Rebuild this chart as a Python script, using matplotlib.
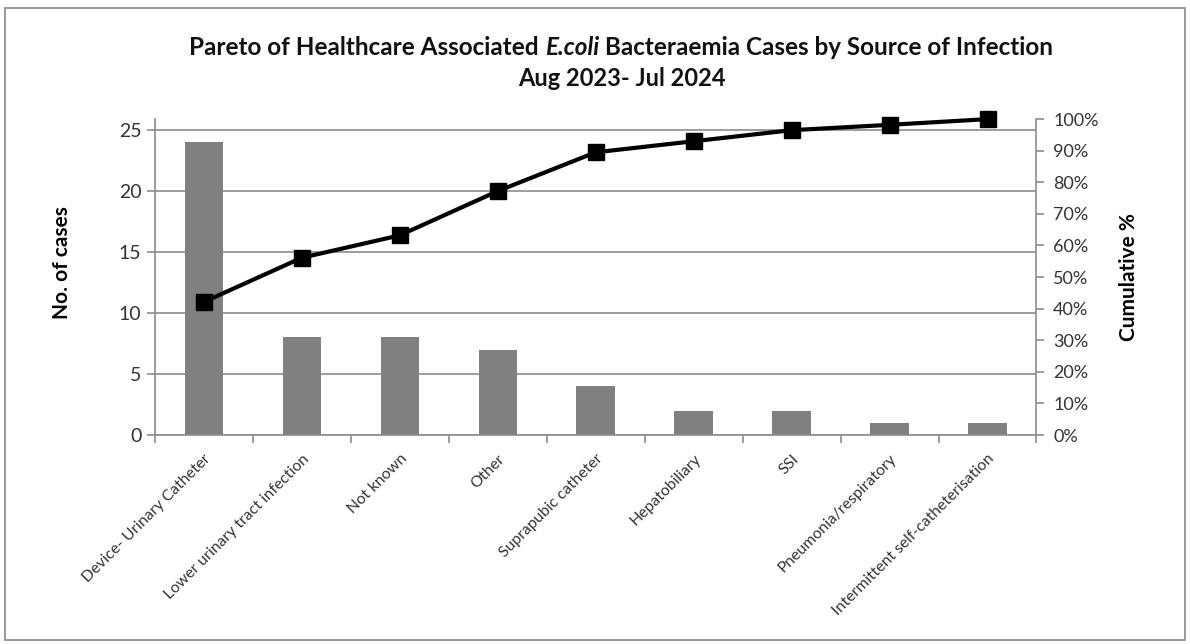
import numpy as np
import matplotlib
matplotlib.use('Agg')
import matplotlib.pyplot as plt
from matplotlib.patches import Rectangle
from matplotlib.ticker import MultipleLocator, FuncFormatter

plt.rcParams['font.family'] = ['Lato', 'DejaVu Sans']

# source of infection, number of cases and cumulative share
sources = ['Device- Urinary Catheter', 'Lower urinary tract infection', 'Not known',
           'Other', 'Suprapubic catheter', 'Hepatobiliary', 'SSI',
           'Pneumonia/respiratory', 'Intermittent self-catheterisation']
cases = [24, 8, 8, 7, 4, 2, 2, 1, 1]
cumulative_pct = [42.1, 56.1, 63.2, 77.2, 89.5, 93.0, 96.5, 98.2, 100.0]

grey = '#8c8c8c'

fig = plt.figure(figsize=(11.9, 6.44), dpi=100)
fig.patches.append(Rectangle((0.004, 0.006), 0.992, 0.981, transform=fig.transFigure,
                             fill=False, edgecolor='#909090', linewidth=1.3))

ax = fig.add_axes([0.130, 0.3245, 0.741, 0.4905])
x = np.arange(len(sources))
ax.bar(x, cases, width=0.39, color='#808080', zorder=2)
ax.set_xlim(-0.5, len(sources) - 0.5)
ax.set_ylim(0, 25.9)
ax.yaxis.set_major_locator(MultipleLocator(5))
ax.grid(axis='y', color='#8c8c8c', linewidth=1.2, zorder=0)
ax.set_axisbelow(True)

for side in ['top', 'right']:
    ax.spines[side].set_visible(False)
for side in ['left', 'bottom']:
    ax.spines[side].set_color(grey)
    ax.spines[side].set_linewidth(1.2)

# category ticks sit between the bars
ax.set_xticks(np.arange(len(sources) + 1) - 0.5)
ax.set_xticklabels([])
ax.set_xticks(x, minor=True)
ax.set_xticklabels(sources, minor=True, rotation=45, ha='right', va='top',
                   rotation_mode='anchor', fontsize=11.3, color='#333333')
ax.tick_params(axis='x', which='minor', length=0, pad=12)
ax.tick_params(axis='x', which='major', length=6, color=grey, width=1.2)
ax.tick_params(axis='y', length=6, color=grey, width=1.2, labelsize=14)
for lbl in ax.get_yticklabels():
    lbl.set_color('#333333')
ax.set_ylabel('No. of cases', fontsize=15, fontweight='bold')
ax.yaxis.set_label_coords(-0.094, 0.545)

ax2 = ax.twinx()
ax2.plot(x, cumulative_pct, color='black', linewidth=3, marker='s',
         markersize=12, zorder=3, clip_on=False)
ax2.set_ylim(0, 100)
ax2.yaxis.set_major_locator(MultipleLocator(10))
ax2.yaxis.set_major_formatter(FuncFormatter(lambda v, p: f'{v:.0f}%'))
for side in ['top', 'left', 'bottom']:
    ax2.spines[side].set_visible(False)
ax2.spines['right'].set_color(grey)
ax2.spines['right'].set_linewidth(1.2)
ax2.tick_params(axis='y', length=6, color=grey, width=1.2, labelsize=13, pad=6)
for lbl in ax2.get_yticklabels():
    lbl.set_color('#333333')
ax2.set_ylabel('Cumulative %', fontsize=15, fontweight='bold')
ax2.yaxis.set_label_coords(1.094, 0.5)

# title, with the organism name in italics
parts = [('Pareto of Healthcare Associated ', 'normal'),
         ('E.coli', 'italic'),
         (' Bacteraemia Cases by Source of Infection', 'normal')]
fig.canvas.draw()
renderer = fig.canvas.get_renderer()
texts = []
for s, style in parts:
    t = fig.text(0, 0.915, s, fontsize=17.5, fontweight='bold', style=style,
                 ha='left', va='baseline', color='#111111')
    texts.append(t)
widths = [t.get_window_extent(renderer).width / fig.bbox.width for t in texts]
left = 0.522 - sum(widths) / 2
for t, w in zip(texts, widths):
    t.set_x(left)
    left += w
fig.text(0.523, 0.866, 'Aug 2023- Jul 2024', fontsize=17, fontweight='bold',
         ha='center', va='baseline', color='#111111')

fig.savefig('out.png', dpi=100)
